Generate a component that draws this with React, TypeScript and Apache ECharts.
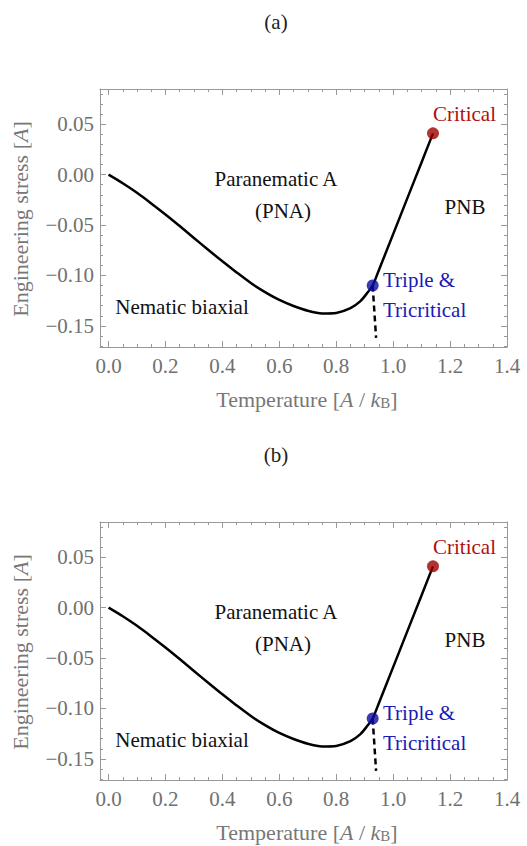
import React, { useEffect, useRef } from "react";
import * as echarts from "echarts";

// ---- data ----
const xTickValues = [0, 0.2, 0.4, 0.6, 0.8, 1.0, 1.2, 1.4];
const yTickValues = [-0.15, -0.1, -0.05, 0, 0.05];
const boundaryX = [0, 0.05, 0.1, 0.15, 0.2, 0.25, 0.3, 0.35, 0.4, 0.45, 0.5, 0.55, 0.6, 0.65, 0.7, 0.75, 0.8, 0.85, 0.885, 0.91, 0.928, 0.948, 1.0, 1.05, 1.1, 1.14];
const boundaryY = [0, -0.0085, -0.018, -0.0285, -0.0395, -0.051, -0.0628, -0.0745, -0.086, -0.097, -0.1075, -0.1165, -0.1243, -0.1303, -0.135, -0.1377, -0.1372, -0.1325, -0.1255, -0.117, -0.11, -0.096, -0.059, -0.0233, 0.0124, 0.041];
const dashedX = [0.928, 0.94];
const dashedY = [-0.11, -0.162];
const criticalPoint = [1.14, 0.041];
const triplePoint = [0.928, -0.11];
const panelLabels = ["(a)", "(b)"];

const X_MIN = -0.03;
const X_MAX = 1.4;
const Y_MIN = -0.171;
const Y_MAX = 0.085;

const FONT = "Liberation Serif";
const FRAME = "#999999";
const TICKTEXT = "#707070";
const TITLETEXT = "#777777";
const RED = "#b01010";
const BLUE = "#1a1ab4";

const minus = (s: string) => s.replace("-", "\u2212");

function range(a: number, b: number, step: number) {
  const out: number[] = [];
  for (let v = a; v <= b + 1e-9; v += step) out.push(Math.round(v * 1000) / 1000);
  return out;
}
const xMinor = range(0, 1.4, 0.05).filter((v) => Math.abs(v / 0.2 - Math.round(v / 0.2)) > 1e-6);
const yMinor = range(-0.17, 0.08, 0.01).filter((v) => Math.abs(v / 0.05 - Math.round(v / 0.05)) > 1e-6);

export default function App() {
  const ref = useRef<HTMLDivElement>(null);
  useEffect(() => {
    if (!ref.current) return;
    const chart = echarts.init(ref.current, undefined, { renderer: "svg" });
    const gridTops = [89, 522];
    const gridLeft = 100;
    const gridW = 407;
    const gridH = 258;

    const xAxes: any[] = [];
    const yAxes: any[] = [];
    const series: any[] = [];
    const graphics: any[] = [];

    const mkX = (g: number, pos: string, values: number[], len: number, label: boolean, line: boolean) => ({
      type: "value", gridIndex: g, min: X_MIN, max: X_MAX, position: pos,
      axisLine: { show: line, onZero: false, lineStyle: { color: FRAME, width: 1 } },
      axisTick: { show: true, inside: true, length: len, customValues: values, lineStyle: { color: FRAME, width: 1 } },
      axisLabel: {
        show: label, customValues: values, margin: 8, color: TICKTEXT, fontSize: 21, fontFamily: FONT,
        formatter: (v: number) => minus(v.toFixed(1)),
      },
      splitLine: { show: false },
    });
    const mkY = (g: number, pos: string, values: number[], len: number, label: boolean, line: boolean) => ({
      type: "value", gridIndex: g, min: Y_MIN, max: Y_MAX, position: pos,
      axisLine: { show: line, onZero: false, lineStyle: { color: FRAME, width: 1 } },
      axisTick: { show: true, inside: true, length: len, customValues: values, lineStyle: { color: FRAME, width: 1 } },
      axisLabel: {
        show: label, customValues: values, margin: 6, color: TICKTEXT, fontSize: 21, fontFamily: FONT,
        formatter: (v: number) => minus(v.toFixed(2)),
      },
      splitLine: { show: false },
    });

    const curve = boundaryX.map((x, i) => [x, boundaryY[i]]);
    const dashed = dashedX.map((x, i) => [x, dashedY[i]]);

    gridTops.forEach((top, g) => {
      const xi = xAxes.length;
      const yi = yAxes.length;
      xAxes.push(mkX(g, "bottom", xTickValues, 6, true, true));
      xAxes.push(mkX(g, "bottom", xMinor, 3, false, false));
      xAxes.push(mkX(g, "top", xTickValues, 6, false, true));
      xAxes.push(mkX(g, "top", xMinor, 3, false, false));
      yAxes.push(mkY(g, "left", yTickValues, 6, true, true));
      yAxes.push(mkY(g, "left", yMinor, 3, false, false));
      yAxes.push(mkY(g, "right", yTickValues, 6, false, true));
      yAxes.push(mkY(g, "right", yMinor, 3, false, false));

      series.push({
        type: "line", xAxisIndex: xi, yAxisIndex: yi, data: curve, showSymbol: false,
        smooth: 0.25, lineStyle: { color: "#000", width: 2.5, join: "round" }, z: 3,
      });
      series.push({
        type: "line", xAxisIndex: xi, yAxisIndex: yi, data: dashed, showSymbol: false,
        lineStyle: { color: "#000", width: 2.5, type: [6, 4] }, z: 3,
      });
      series.push({
        type: "scatter", xAxisIndex: xi, yAxisIndex: yi, data: [criticalPoint], symbolSize: 12,
        itemStyle: { color: "#a00000" }, z: 4,
      });
      series.push({
        type: "scatter", xAxisIndex: xi, yAxisIndex: yi, data: [triplePoint], symbolSize: 12,
        itemStyle: { color: "#0a0aa0" }, z: 4,
      });

      const dy = top - 89;
      const txt = (text: string, x: number, y: number, fill: string, align = "center") => ({
        type: "text", x, y: y + dy, z: 10,
        style: { text, fill, fontSize: 21, fontFamily: FONT, align, verticalAlign: "middle" },
      });
      graphics.push(txt(panelLabels[g], 276, 22, "#222"));
      graphics.push(txt("Paranematic A", 276, 179, "#111"));
      graphics.push(txt("(PNA)", 283, 211, "#111"));
      graphics.push(txt("PNB", 465, 207, "#111"));
      graphics.push(txt("Nematic biaxial", 182, 307, "#111"));
      graphics.push(txt("Critical", 433, 114, RED, "left"));
      graphics.push(txt("Triple &", 383, 280, BLUE, "left"));
      graphics.push(txt("Tricritical", 383, 310, BLUE, "left"));
      graphics.push({
        type: "text", x: 307, y: 399 + dy, z: 10,
        style: {
          text: "{r|Temperature [}{i|A}{r| / }{i|k}{s|B}{r|]}",
          align: "center", verticalAlign: "middle", fill: TITLETEXT,
          rich: {
            r: { fontSize: 22, fontFamily: FONT, lineHeight: 22, fill: TITLETEXT },
            i: { fontSize: 22, fontFamily: FONT, fontStyle: "italic", fill: TITLETEXT, lineHeight: 22 },
            s: { fontSize: 15, fontFamily: FONT, fill: TITLETEXT, lineHeight: 12, verticalAlign: "bottom" },
          },
        },
      });
      graphics.push({
        type: "text", x: 20, y: 219 + dy, rotation: Math.PI / 2, z: 10,
        style: {
          text: "{r|Engineering stress [}{i|A}{r|]}",
          align: "center", verticalAlign: "middle", fill: TITLETEXT,
          rich: {
            r: { fontSize: 22, fontFamily: FONT, fill: TITLETEXT, lineHeight: 24 },
            i: { fontSize: 22, fontFamily: FONT, fontStyle: "italic", fill: TITLETEXT, lineHeight: 24 },
          },
        },
      });
    });

    chart.setOption({
      animation: false,
      backgroundColor: "#ffffff",
      grid: gridTops.map((t) => ({ left: gridLeft, top: t, width: gridW, height: gridH, containLabel: false })),
      xAxis: xAxes,
      yAxis: yAxes,
      series,
      graphic: graphics,
    });
    return () => chart.dispose();
  }, []);
  return <div ref={ref} style={{ position: "absolute", left: 0, top: 0, width: 527, height: 846 }} />;
}
